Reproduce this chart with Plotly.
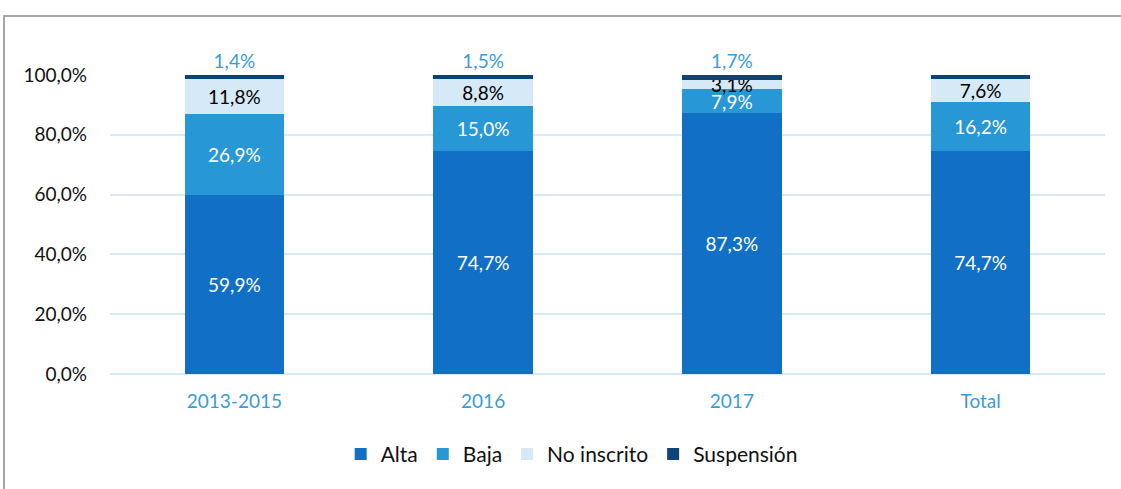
import plotly.graph_objects as go

categories = ["2013-2015", "2016", "2017", "Total"]
alta = [59.9, 74.7, 87.3, 74.7]
baja = [26.9, 15.0, 7.9, 16.2]
no_inscrito = [11.8, 8.8, 3.1, 7.6]
suspension = [1.4, 1.5, 1.7, 1.6]
ytick_vals = [0, 20, 40, 60, 80, 100]
ytick_text = ["0,0%", "20,0%", "40,0%", "60,0%", "80,0%", "100,0%"]

def fmt(v):
    return f"{v:.1f}".replace(".", ",") + "%"

FONT = "Lato, 'Open Sans', sans-serif"
series = [
    ("Alta", alta, "#1170C5", "white", "inside"),
    ("Baja", baja, "#2897D5", "white", "inside"),
    ("No inscrito", no_inscrito, "#D5E9F7", "black", "inside"),
    ("Suspensión", suspension, "#0C4479", "#3A9BDA", "outside"),
]

fig = go.Figure()
for name, vals, color, tcolor, pos in series:
    fig.add_trace(go.Bar(
        name=name, x=categories, y=vals, marker_color=color,
        marker_line_width=0,
        text=[fmt(v) for v in vals], textposition=pos,
        insidetextanchor="middle", textangle=0, constraintext="none",
        textfont=dict(color=tcolor, size=19, family=FONT),
        cliponaxis=False, width=0.4,
    ))

W, H = 1121, 489
L, T = 110, 75
PW, PH = 995, 299
fig.update_layout(
    barmode="stack",
    width=W, height=H,
    margin=dict(l=L, r=W - L - PW, t=T, b=H - T - PH, autoexpand=False),
    paper_bgcolor="white", plot_bgcolor="white",
    font=dict(family=FONT, size=19, color="black"),
    xaxis=dict(tickfont=dict(color="#3A9BDA", size=19), showgrid=False,
               showline=False, ticks="", ticklabelstandoff=14),
    yaxis=dict(range=[0, 100], tickvals=ytick_vals, ticktext=ytick_text,
               gridcolor="#D5E9F7", gridwidth=2, zeroline=True,
               zerolinecolor="#D5E9F7", zerolinewidth=2, ticks="",
               tickfont=dict(color="#111111", size=19),
               ticklabelstandoff=22),
    legend=dict(orientation="h", x=0.464, xanchor="center", y=-0.2,
                yanchor="top", font=dict(size=21, color="#111111"),
                traceorder="normal", itemwidth=30),
    showlegend=True,
    shapes=[dict(type="rect", xref="paper", yref="paper",
                 x0=(4 - L) / PW, x1=1.2, y0=-0.6,
                 y1=(T + PH - 16) / PH,
                 line=dict(color="#A6A6A6", width=2), layer="below")],
)

fig.write_html(
    "out.html",
    config={"displayModeBar": False},
    post_script="document.body.style.margin='0';document.body.style.padding='0';",
)
